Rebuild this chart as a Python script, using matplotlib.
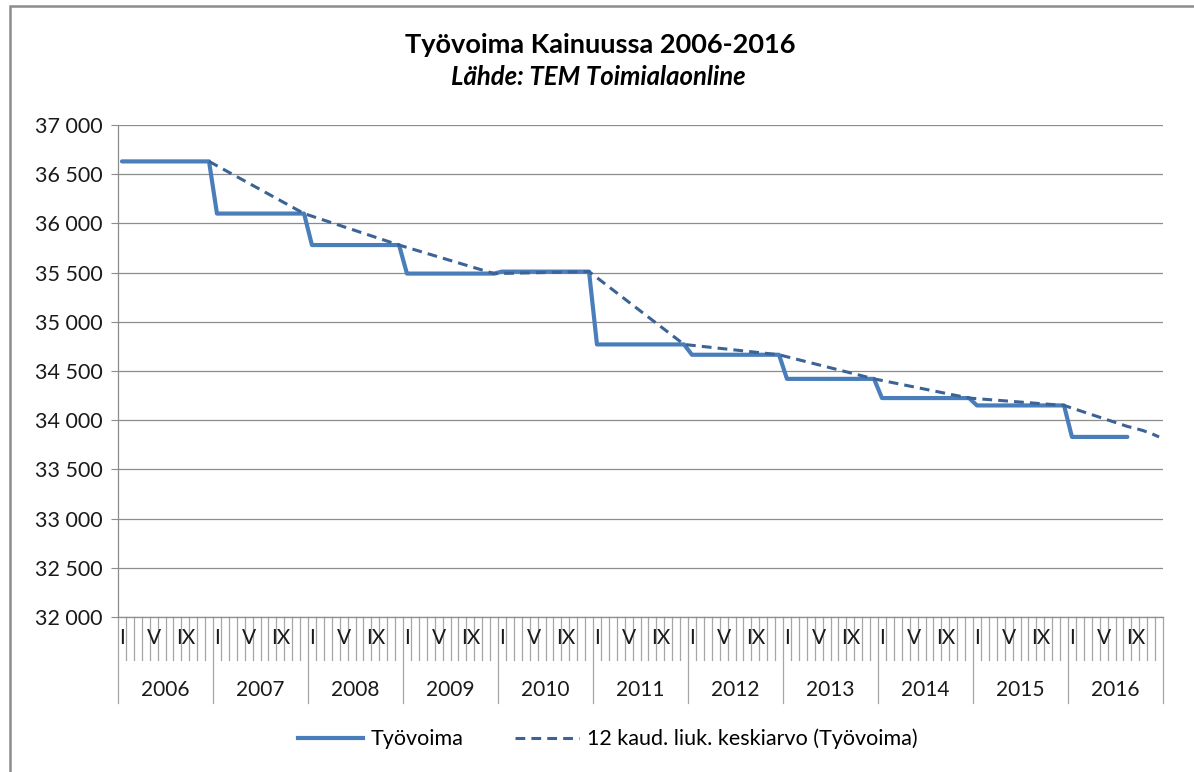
import matplotlib.pyplot as plt
from matplotlib.lines import Line2D
from matplotlib.patches import Rectangle
import numpy as np
import pandas as pd

# DATA

years = list(range(2006, 2017))
# labour force level, same value for every month of the year
tyovoima_levels = [36630, 36100, 35780, 35490, 35510, 34770, 34665, 34420, 34225, 34150, 33830]
months_in_last_year = 8  # figures published until August 2016
month_labels = ['I', 'V', 'IX']
month_label_idx = [0, 4, 8]
yticks = list(range(32000, 37001, 500))

title = 'Työvoima Kainuussa 2006-2016'
subtitle = 'Lähde: TEM Toimialaonline'
label_series = 'Työvoima'
label_ma = '12 kaud. liuk. keskiarvo (Työvoima)'

# monthly series, blanks after the last published month
monthly = pd.Series(np.repeat(tyovoima_levels, 12).astype(float))
monthly.iloc[len(monthly) - (12 - months_in_last_year):] = np.nan
n = len(monthly)

# 12 period moving average like excel trendline (skips blanks)
ma = monthly.rolling(12, min_periods=1).mean()
ma.iloc[:11] = np.nan

plt.rcParams['font.family'] = ['Lato', 'DejaVu Sans']
grid_col = '#8c8c8c'
blue = '#4a7ebb'
dark_blue = '#3b6395'

fig = plt.figure(figsize=(11.94, 7.72), dpi=100)
ax = fig.add_axes([118 / 1194, 1 - 617 / 772, 1045 / 1194, 492 / 772])

x = np.arange(n)
ax.plot(x, monthly.values, color=blue, lw=3.0, solid_capstyle='round', zorder=3)
ax.plot(x, ma.values, color=dark_blue, lw=2.2, dashes=(3.2, 2.0), zorder=4)

ax.set_xlim(-0.5, n - 0.5)
ax.set_ylim(yticks[0], yticks[-1])
ax.set_yticks(yticks)
ax.set_yticklabels([f'{v:,.0f}'.replace(',', ' ') for v in yticks], fontsize=15.5)
ax.tick_params(axis='y', length=5, color=grid_col, pad=6, labelcolor='#1a1a1a')
ax.set_xticks([])
ax.grid(axis='y', color=grid_col, lw=0.9)
ax.set_axisbelow(True)
for s in ['top', 'right']:
    ax.spines[s].set_visible(False)
for s in ['left', 'bottom']:
    ax.spines[s].set_color(grid_col)
    ax.spines[s].set_linewidth(0.9)

# multi level category axis (months + years)
trans = ax.get_xaxis_transform()
for i in range(n + 1):
    low = -0.175 if i % 12 == 0 else -0.0874
    ax.plot([i - 0.5, i - 0.5], [0, low], transform=trans, clip_on=False,
            color='#a6a6a6', lw=0.9)
for k, yr in enumerate(years):
    for lab, idx in zip(month_labels, month_label_idx):
        ax.text(k * 12 + idx, -0.043, lab, transform=trans, ha='center', va='center',
                fontsize=15, color='#1a1a1a')
    ax.text(k * 12 + 5.5, -0.148, str(yr), transform=trans, ha='center', va='center',
            fontsize=15, color='#1a1a1a')

# titles
fig.text(0.503, 1 - 45 / 772, title, ha='center', va='center', fontsize=19.5, fontweight='bold')
fig.text(0.501, 1 - 77 / 772, subtitle, ha='center', va='center', fontsize=18.5,
         fontweight='bold', style='italic')

# legend
handles = [Line2D([], [], color=blue, lw=3.0),
           Line2D([], [], color=dark_blue, lw=2.2, dashes=(3.2, 2.0))]
fig.legend(handles, [label_series, label_ma], loc='center', bbox_to_anchor=(0.509, 1 - 739 / 772),
           ncol=2, frameon=False, fontsize=15.5, handlelength=3.0, handletextpad=0.35,
           columnspacing=2.4)

# outer chart border
fig.patches.append(Rectangle((10 / 1194, -0.05), 1.1, 0.05 + 1 - 6 / 772, transform=fig.transFigure,
                             fill=False, edgecolor='#8c8c8c', lw=1.8))

fig.savefig('out.png', dpi=100)
